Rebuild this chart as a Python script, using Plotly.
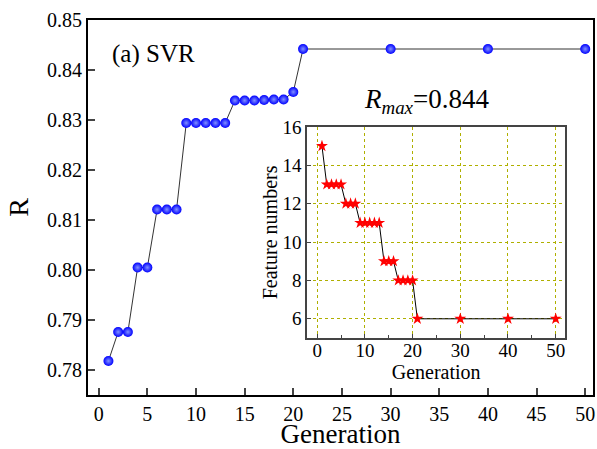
import plotly.graph_objects as go

# Main series: best R per generation
gen_main = [1, 2, 3, 4, 5, 6, 7, 8, 9, 10, 11, 12, 13, 14, 15, 16, 17, 18, 19, 20, 21, 30, 40, 50]
r_main = [0.7818, 0.7876, 0.7876, 0.8005, 0.8005, 0.8121, 0.8121, 0.8121,
          0.8294, 0.8294, 0.8294, 0.8294, 0.8294,
          0.8339, 0.8339, 0.8339, 0.8340, 0.8341, 0.8341, 0.8356,
          0.8442, 0.8442, 0.8442, 0.8442]

# Inset series: feature numbers per generation
gen_inset = [1, 2, 3, 4, 5, 6, 7, 8, 9, 10, 11, 12, 13, 14, 15, 16, 17, 18, 19, 20, 21, 30, 40, 50]
feat_inset = [15, 13, 13, 13, 13, 12, 12, 12, 11, 11, 11, 11, 11, 9, 9, 9, 8, 8, 8, 8, 6, 6, 6, 6]

main_xticks = [0, 5, 10, 15, 20, 25, 30, 35, 40, 45, 50]
main_yticks = [0.78, 0.79, 0.80, 0.81, 0.82, 0.83, 0.84, 0.85]
inset_xticks = [0, 10, 20, 30, 40, 50]
inset_yticks = [6, 8, 10, 12, 14, 16]

FONT = "Times New Roman"
GRID = "rgb(175,175,0)"

fig = go.Figure()
fig.add_trace(go.Scatter(
    x=gen_main, y=r_main, mode="lines+markers",
    line=dict(color="#333333", width=1),
    marker=dict(size=10, color="#0000ff",
                gradient=dict(type="radial", color="#8090ff"),
                line=dict(width=0)),
    xaxis="x", yaxis="y", showlegend=False,
))
fig.add_trace(go.Scatter(
    x=gen_inset, y=feat_inset, mode="lines+markers",
    line=dict(color="black", width=1),
    marker=dict(symbol="star", size=9, color="#ff0000", line=dict(width=0)),
    xaxis="x2", yaxis="y2", showlegend=False,
))

fig.update_layout(
    width=597, height=449,
    margin=dict(l=88, r=4, t=20, b=54),
    paper_bgcolor="white", plot_bgcolor="white",
    font=dict(family=FONT, color="black", size=20),
    xaxis=dict(
        range=[-1.1, 50.8], tickvals=main_xticks, ticks="inside", ticklen=7, tickwidth=1.5,
        showline=True, linecolor="black", linewidth=2, mirror=True, showgrid=False,
        zeroline=False, tickfont=dict(size=20, family=FONT), automargin=False,
        title=dict(text="Generation", font=dict(size=27, family=FONT), standoff=3),
        ticklabelstandoff=0,
    ),
    yaxis=dict(
        range=[0.775, 0.85], tickvals=main_yticks, ticktext=["%.2f" % v for v in main_yticks],
        ticks="inside", ticklen=7, tickwidth=1.5,
        showline=True, linecolor="black", linewidth=2, mirror=True, showgrid=False,
        zeroline=False, tickfont=dict(size=20, family=FONT), automargin=False,
        title=dict(text="R", font=dict(size=28, family=FONT), standoff=10),
    ),
    xaxis2=dict(
        domain=[0.434, 0.945], anchor="y2",
        range=[-2.1, 52], tickvals=inset_xticks, ticks="inside", ticklen=4,
        showline=True, linecolor="#444444", linewidth=1.5, mirror=True,
        showgrid=True, gridcolor=GRID, griddash="dot", gridwidth=1,
        zeroline=False, tickfont=dict(size=19, family=FONT), automargin=False,
        minor=dict(dtick=5, tick0=0, ticks="inside", ticklen=3, showgrid=False),
        title=dict(text="Generation", font=dict(size=20, family=FONT), standoff=0),
        ticklabelstandoff=-6,
    ),
    yaxis2=dict(
        domain=[0.152, 0.715], anchor="x2",
        range=[5, 16], tickvals=inset_yticks, ticks="inside", ticklen=4,
        showline=True, linecolor="#444444", linewidth=1.5, mirror=True,
        showgrid=True, gridcolor=GRID, griddash="dot", gridwidth=1,
        zeroline=False, tickfont=dict(size=19, family=FONT), automargin=False,
        title=dict(text="Feature numbers", font=dict(size=20, family=FONT), standoff=0),
    ),
    annotations=[
        dict(text="(a) SVR", xref="paper", yref="paper", x=0.044, y=0.91,
             xanchor="left", yanchor="middle", showarrow=False,
             font=dict(size=25, family=FONT)),
        dict(text="<i>R</i><sub><i>max</i></sub>=0.844", xref="paper", yref="paper",
             x=0.543, y=0.785, xanchor="left", yanchor="middle", showarrow=False,
             font=dict(size=27, family=FONT)),
    ],
)

fig.write_html("out.html", post_script="document.body.style.margin='0';",
               config={"displayModeBar": False})
